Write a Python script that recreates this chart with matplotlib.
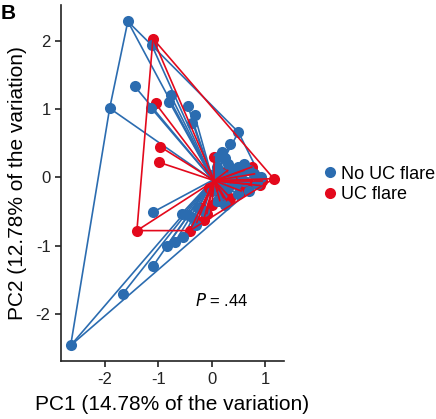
import numpy as np
import matplotlib
matplotlib.use("Agg")
import matplotlib.pyplot as plt
from matplotlib.lines import Line2D

plt.rcParams["font.family"] = ["Liberation Sans", "DejaVu Sans"]
plt.rcParams["axes.unicode_minus"] = False

# PCA scores
no_flare_pc1 = [-2.64, -1.57, -1.12, -1.44, -1.91, -1.14, -0.77, -0.79, -0.45, -0.32, -0.36,
                0.50, 0.34, 0.19, 0.12, 0.25,
                -0.56, -1.10, -0.84, -0.69, -0.54, -1.10, -1.66, -0.45, -0.35, -0.25, -0.30, -0.15,
                0.10, 0.20, 0.30, 0.40, 0.50, 0.60, 0.70, 0.80, 0.92, 0.85, 0.60, 0.45, 0.30,
                0.20, 0.50, 0.70, 0.15, 0.35, 0.55, 0.05, 0.00, 0.10, 0.25]
no_flare_pc2 = [-2.46, 2.28, 1.93, 1.33, 1.01, 1.02, 1.20, 1.10, 1.05, 0.91, 0.80,
                0.66, 0.48, 0.37, 0.30, 0.28,
                -0.53, -0.51, -1.00, -0.95, -0.88, -1.30, -1.70, -0.55, -0.60, -0.45, -0.70, -0.50,
                0.15, 0.05, 0.20, 0.10, 0.15, 0.20, 0.10, 0.05, 0.00, -0.10, -0.05, -0.10, -0.15,
                -0.25, -0.25, -0.20, -0.10, 0.00, 0.05, 0.05, -0.20, -0.35, -0.40]

flare_pc1 = [-1.10, -1.05, -0.97, -0.99, -1.40, -0.41, 1.16, 0.90, 0.05, -0.28, -0.09,
             0.15, 0.28, 0.00, -0.15, 0.22, 0.35, 0.55, 0.70, 0.80, 0.60, 0.75, 0.40,
             0.95, 0.30, -0.05, 0.10, -0.20]
flare_pc2 = [2.03, 1.08, 0.45, 0.22, -0.78, -0.78, -0.02, -0.12, 0.29, -0.66, -0.53,
             -0.34, -0.34, -0.40, -0.62, -0.30, -0.30, -0.20, -0.10, 0.05, 0.10, 0.15, -0.05,
             -0.05, 0.10, -0.15, -0.20, -0.45]

# group centres (spider hubs)
no_flare_centre = (0.02, -0.04)
flare_centre = (0.05, -0.05)

groups = ["No UC flare", "UC flare"]
colors = ["#2B6CB0", "#E3091C"]


def convex_hull(pts):
    pts = sorted(set(map(tuple, pts)))
    def cross(o, a, b):
        return (a[0] - o[0]) * (b[1] - o[1]) - (a[1] - o[1]) * (b[0] - o[0])
    lower, upper = [], []
    for p in pts:
        while len(lower) >= 2 and cross(lower[-2], lower[-1], p) <= 0:
            lower.pop()
        lower.append(p)
    for p in reversed(pts):
        while len(upper) >= 2 and cross(upper[-2], upper[-1], p) <= 0:
            upper.pop()
        upper.append(p)
    return np.array(lower[:-1] + upper[:-1])


def draw_lines(ax, x, y, centre, color, z):
    for xi, yi in zip(x, y):
        ax.plot([centre[0], xi], [centre[1], yi], color=color, lw=1.2, zorder=z)
    hull = convex_hull(np.column_stack([x, y]))
    hull = np.vstack([hull, hull[:1]])
    ax.plot(hull[:, 0], hull[:, 1], color=color, lw=1.2, zorder=z)


fig = plt.figure(figsize=(4.36, 4.19), dpi=100)
ax = fig.add_axes([0.140, 0.138, 0.511, 0.850])

draw_lines(ax, no_flare_pc1, no_flare_pc2, no_flare_centre, colors[0], 1)
ax.plot(flare_pc1, flare_pc2, "o", ms=8, color=colors[1], mec="none", zorder=2)
ax.plot(no_flare_pc1, no_flare_pc2, "o", ms=8, color=colors[0], mec="none", zorder=3)
draw_lines(ax, flare_pc1, flare_pc2, flare_centre, colors[1], 4)

ax.text(0.19, -1.8, r"$P$ = .44", fontsize=12, ha="center", va="center")

ax.set_xlim(-2.82, 1.35)
ax.set_ylim(-2.69, 2.52)
ax.set_xticks([-2, -1, 0, 1])
ax.set_yticks([-2, -1, 0, 1, 2])
for s in ["top", "right"]:
    ax.spines[s].set_visible(False)
for s in ["left", "bottom"]:
    ax.spines[s].set_linewidth(1.2)
    ax.spines[s].set_color("#222222")
ax.tick_params(direction="out", length=4, width=1.2, labelsize=12, colors="#222222")
ax.set_xlabel("PC1 (14.78% of the variation)", fontsize=15, labelpad=6)
ax.set_ylabel("PC2 (12.78% of the variation)", fontsize=15, labelpad=6)

handles = [Line2D([], [], marker="o", ls="none", ms=8, color=c, mec="none") for c in colors]
fig.legend(handles, groups, loc="center left", bbox_to_anchor=(0.72, 0.56),
           frameon=False, fontsize=13, handletextpad=0.1, labelspacing=0.2,
           handlelength=1.0, borderaxespad=0)

fig.text(0.002, 0.99, "B", fontsize=15, fontweight="bold", va="top", ha="left")

fig.savefig("out.png", dpi=100)
